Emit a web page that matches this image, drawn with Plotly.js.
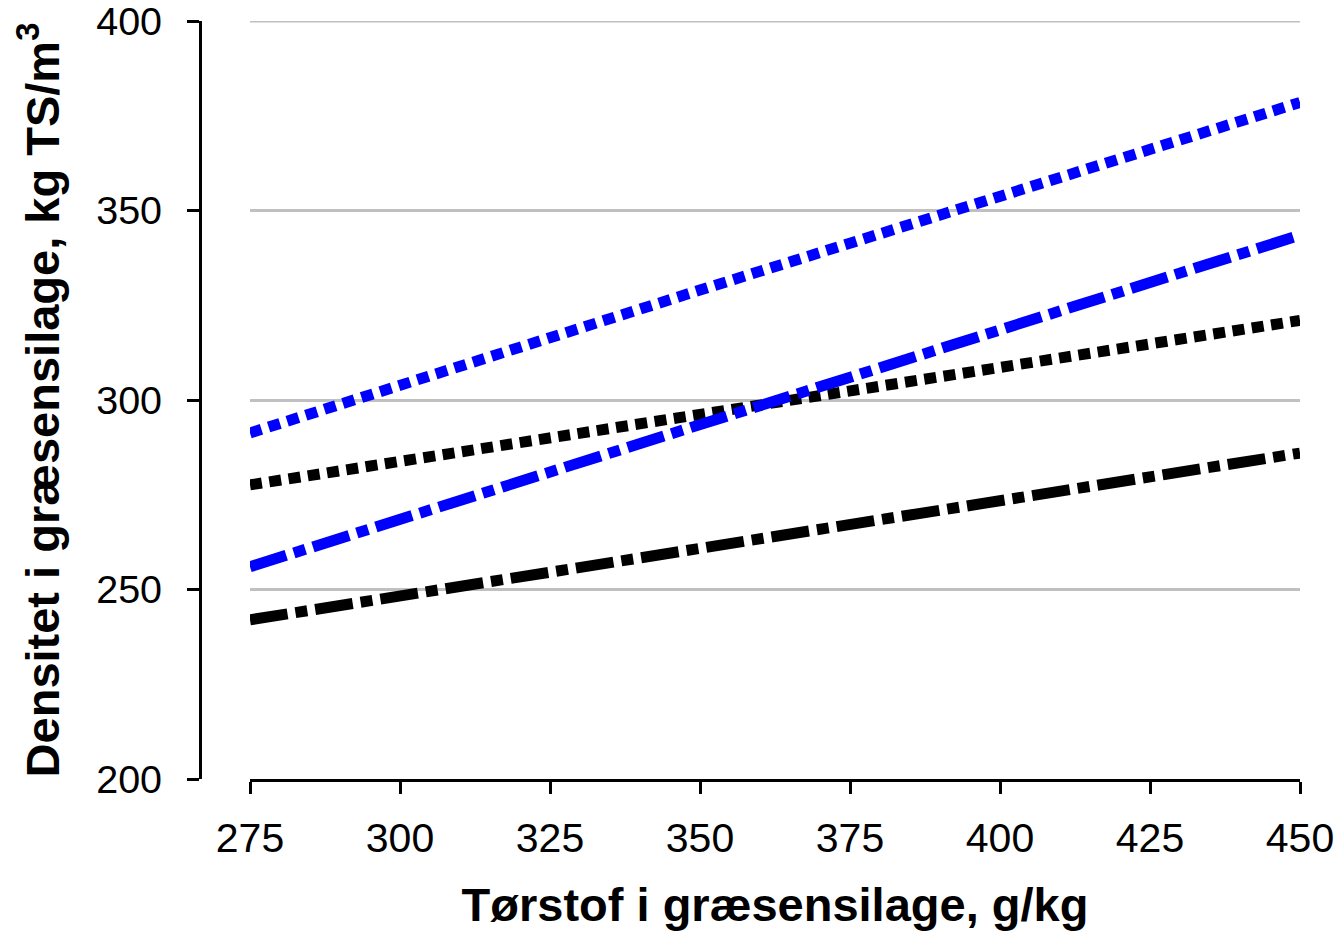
<!DOCTYPE html>
<html>
<head>
<meta charset="utf-8">
<script src="https://cdn.plot.ly/plotly-3.0.1.min.js"></script>
<style>html,body{margin:0;padding:0;background:#fff;}#chart{width:1341px;height:939px;}</style>
</head>
<body>
<div id="chart"></div>
<script>
// Values
const xVals = [275, 350, 450];
const blueDotted = [291.3, 329.0, 378.5];
const blueDashDot = [256.0, 293.4, 343.5];
const blackDotted = [277.6, 296.4, 321.0];
const blackDashDot = [242.0, 261.0, 286.0];

const xTicks = [275, 300, 325, 350, 375, 400, 425, 450];
const yTicks = [200, 250, 300, 350, 400];

const xTitle = 'Tørstof i græsensilage, g/kg';
const yTitle = 'Densitet i græsensilage, kg TS/m<sup>3</sup>';

const BLUE = '#0000ff';
const BLACK = '#000000';
const LW = 11;
const DOT = '12px,7.5px';
const DASHDOT = '38px,8px,12px,8px';

const traces = [
  {x: xVals, y: blueDotted, mode: 'lines', line: {color: BLUE, width: LW, dash: DOT}, name: 'a'},
  {x: xVals, y: blackDotted, mode: 'lines', line: {color: BLACK, width: LW, dash: DOT}, name: 'b'},
  {x: xVals, y: blueDashDot, mode: 'lines', line: {color: BLUE, width: LW, dash: DASHDOT}, name: 'c'},
  {x: xVals, y: blackDashDot, mode: 'lines', line: {color: BLACK, width: LW, dash: DASHDOT}, name: 'd'}
];

const xTickFont = {family: 'Liberation Sans, Arial, sans-serif', size: 41, color: '#000'};
const yTickFont = {family: 'Liberation Sans, Arial, sans-serif', size: 39.5, color: '#000'};
const titleFont = {family: 'Liberation Sans, Arial, sans-serif', size: 47, color: '#000', weight: 'bold'};

// top gridline (Plotly omits the grid line at the range edge)
const topGrid = {
  type: 'line', xref: 'x', yref: 'y', layer: 'below',
  x0: xTicks[0], x1: xTicks[xTicks.length - 1],
  y0: yTicks[yTicks.length - 1], y1: yTicks[yTicks.length - 1],
  line: {color: '#c0c0c0', width: 3}
};

const layout = {
  width: 1341, height: 939,
  margin: {l: 200, r: 41, t: 21, b: 160},
  paper_bgcolor: '#fff', plot_bgcolor: '#fff',
  showlegend: false,
  shapes: [topGrid],
  xaxis: {
    domain: [50/1100, 1],
    range: [275, 450],
    tickvals: xTicks,
    ticktext: xTicks.map(String),
    showgrid: false, zeroline: false,
    showline: true, linecolor: '#000', linewidth: 3,
    ticks: 'outside', ticklen: 12, tickwidth: 3, tickcolor: '#000',
    tickfont: xTickFont,
    ticklabelstandoff: 9,
    ticklabeloverflow: 'allow',
    title: {text: '<b>' + xTitle + '</b>', font: titleFont, standoff: 28}
  },
  yaxis: {
    domain: [0, 1],
    range: [200, 400],
    anchor: 'free', position: 0,
    tickvals: yTicks,
    ticktext: yTicks.map(String),
    showgrid: true, gridcolor: '#c0c0c0', gridwidth: 3,
    zeroline: false,
    showline: true, linecolor: '#000', linewidth: 3,
    ticks: 'outside', ticklen: 12, tickwidth: 3, tickcolor: '#000',
    tickfont: yTickFont,
    ticklabelstandoff: 17,
    ticklabeloverflow: 'allow',
    title: {text: '<b>' + yTitle + '</b>', font: titleFont, standoff: 20}
  }
};

Plotly.newPlot('chart', traces, layout, {displayModeBar: false, staticPlot: true});
</script>
</body>
</html>
